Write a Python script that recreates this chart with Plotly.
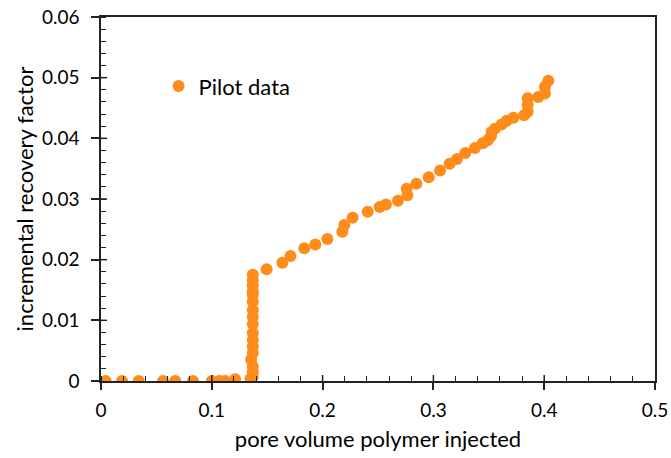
import plotly.graph_objects as go

# Pilot data: pore volume polymer injected vs incremental recovery factor
pv_base = [0.0042, 0.019, 0.034, 0.056, 0.067, 0.083, 0.100, 0.107, 0.112, 0.121, 0.135]
rf_base = [0.0, 0.0, 0.0, 0.0, 0.0, 0.0, 0.0, 0.0, 0.0, 0.0003, 0.0004]

pv_jump = [0.137, 0.137, 0.137, 0.1355, 0.137, 0.137, 0.137, 0.137, 0.137,
           0.137, 0.137, 0.137, 0.137, 0.137, 0.137, 0.137, 0.137]
rf_jump = [0.0007, 0.0015, 0.0024, 0.0035, 0.0046, 0.0057, 0.0068, 0.0079, 0.0094,
           0.0106, 0.0117, 0.0131, 0.0142, 0.0148, 0.0157, 0.0166, 0.0175]

pv_rise = [0.1495, 0.1637, 0.171, 0.1835, 0.1934, 0.2043, 0.2178, 0.2196, 0.2271, 0.2407,
           0.2515, 0.2572, 0.268, 0.2765, 0.2759, 0.2846, 0.2958, 0.306, 0.3147, 0.3213,
           0.3288, 0.3375, 0.3445, 0.349, 0.352, 0.3526, 0.3556, 0.3616, 0.3661, 0.3722,
           0.3818, 0.3851, 0.3851, 0.3851, 0.3947, 0.4007, 0.4007, 0.4037]
rf_rise = [0.0184, 0.0195, 0.0206, 0.0219, 0.0225, 0.0234, 0.0246, 0.0257, 0.0269, 0.0279,
           0.0287, 0.0291, 0.0297, 0.0306, 0.0317, 0.0325, 0.0336, 0.0347, 0.0358, 0.0366,
           0.0376, 0.0384, 0.0392, 0.0397, 0.0404, 0.0411, 0.0416, 0.0423, 0.0429, 0.0434,
           0.0438, 0.0444, 0.0455, 0.0466, 0.0468, 0.0474, 0.0485, 0.0495]

pv = pv_base + pv_jump + pv_rise
rf = rf_base + rf_jump + rf_rise

x_ticks = [0, 0.1, 0.2, 0.3, 0.4, 0.5]
x_tick_text = ["0", "0.1", "0.2", "0.3", "0.4", "0.5"]
y_ticks = [0, 0.01, 0.02, 0.03, 0.04, 0.05, 0.06]
y_tick_text = ["0", "0.01", "0.02", "0.03", "0.04", "0.05", "0.06"]

ORANGE = "#FF8C1A"
AX = "#222222"
FONT = "Lato, Open Sans, sans-serif"

fig = go.Figure()
fig.add_trace(go.Scatter(
    x=pv, y=rf, mode="markers", name="Pilot data",
    marker=dict(color=ORANGE, size=12, line=dict(width=0)),
))

plot_h = 458 - 17 - 77
plot_w = 671 - 101 - 16
shapes = []
# inner halves of major ticks (crossing ticks)
for t in x_ticks[1:-1]:
    shapes.append(dict(type="line", xref="x", yref="paper", x0=t, x1=t, y0=0, y1=6 / plot_h,
                       line=dict(color=AX, width=1.5)))
for t in y_ticks[1:-1]:
    shapes.append(dict(type="line", xref="paper", yref="y", x0=0, x1=6 / plot_w, y0=t, y1=t,
                       line=dict(color=AX, width=1.5)))

fig.update_layout(
    width=671, height=458,
    margin=dict(l=101, r=16, t=17, b=77),
    paper_bgcolor="white", plot_bgcolor="white",
    font=dict(family=FONT, size=19, color="black"),
    showlegend=True,
    legend=dict(x=0.104, y=0.81, xanchor="left", yanchor="middle",
                bgcolor="rgba(0,0,0,0)", font=dict(size=22, family=FONT),
                itemwidth=30),
    shapes=shapes,
)
fig.update_xaxes(
    range=[0, 0.5], tickvals=x_ticks, ticktext=x_tick_text,
    automargin=False,
    showgrid=False, zeroline=False,
    showline=True, linecolor=AX, linewidth=1.5, mirror=True,
    ticks="outside", ticklen=7, tickwidth=1.5, tickcolor=AX,
    ticklabelstandoff=4,
    minor=dict(dtick=0.02, ticks="inside", ticklen=5, tickwidth=1, tickcolor=AX, showgrid=False),
    title=dict(text="pore volume polymer injected", font=dict(size=22, family=FONT), standoff=12),
    tickfont=dict(size=19, family=FONT),
)
fig.update_yaxes(
    range=[0, 0.06], tickvals=y_ticks, ticktext=y_tick_text,
    automargin=False,
    showgrid=False, zeroline=False,
    showline=True, linecolor=AX, linewidth=1.5, mirror=True,
    ticks="outside", ticklen=8, tickwidth=1.5, tickcolor=AX,
    ticklabelstandoff=8,
    minor=dict(dtick=0.002, ticks="inside", ticklen=5, tickwidth=1, tickcolor=AX, showgrid=False),
    title=dict(text="incremental recovery factor", font=dict(size=22, family=FONT), standoff=2),
    tickfont=dict(size=19, family=FONT),
)

fig.write_html("out.html", config={"displayModeBar": False},
               post_script="document.body.style.margin='0';document.body.style.overflow='hidden';")
